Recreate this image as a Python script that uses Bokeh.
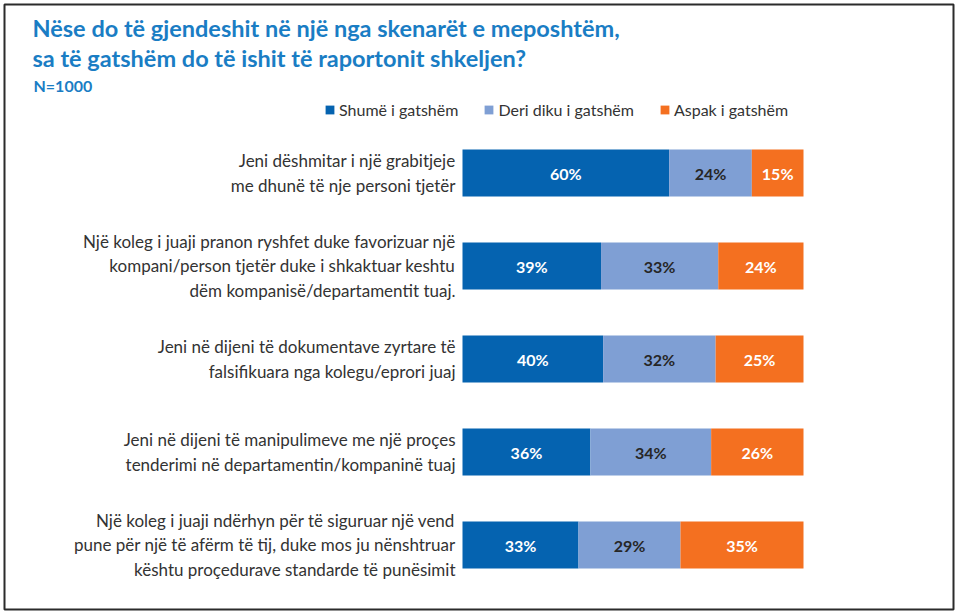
from bokeh.plotting import figure
from bokeh.models import ColumnDataSource, Range1d, Label, Legend, LegendItem
from bokeh.core.properties import value
from bokeh.embed import file_html
from bokeh.resources import INLINE

categories = [
    "Jeni dëshmitar i një grabitjeje\nme dhunë të nje personi tjetër",
    "Një koleg i juaji pranon ryshfet duke favorizuar një\nkompani/person tjetër duke i shkaktuar keshtu\ndëm kompanisë/departamentit tuaj.",
    "Jeni në dijeni të dokumentave zyrtare të\nfalsifikuara nga kolegu/eprori juaj",
    "Jeni në dijeni të manipulimeve me një proçes\ntenderimi në departamentin/kompaninë tuaj",
    "Një koleg i juaji ndërhyn për të siguruar një vend\npune për një të afërm të tij, duke mos ju nënshtruar\nkështu proçedurave standarde të punësimit",
]
series_names = ["Shumë i gatshëm", "Deri diku i gatshëm", "Aspak i gatshëm"]
shume = [60, 39, 40, 36, 33]
deri = [24, 33, 32, 34, 29]
aspak = [15, 24, 25, 26, 35]
colors = ["#0563B0", "#7F9FD4", "#F47020"]
label_colors = ["white", "#262626", "white"]

title_lines = ["Nëse do të gjendeshit në një nga skenarët e meposhtëm,",
               "sa të gatshëm do të ishit të raportonit shkeljen?"]
subtitle = "N=1000"

FONT = "Lato"
W, H = 955, 612
BL, BR, BT, BB = 4, 2, 4, 3
FW, FH = W - BL - BR, H - BT - BB
PX = 341.0   # pixels per unit share
X0 = 462     # page x of 0
YC, YS = 172.5, 93.0  # first bar center, bar spacing (page px)

# normalized shares (bars are 100% stacked)
tot = [a + b + c for a, b, c in zip(shume, deri, aspak)]
f1 = [a / t for a, t in zip(shume, tot)]
f2 = [b / t for b, t in zip(deri, tot)]
f3 = [c / t for c, t in zip(aspak, tot)]
ys = list(range(len(categories)))

src = ColumnDataSource(dict(y=ys, s1=f1, s2=f2, s3=f3))

xmin = -(X0 - BL) / PX
p = figure(width=W, height=H, output_backend="svg", toolbar_location=None,
           x_range=Range1d(xmin, xmin + FW / PX),
           y_range=Range1d((H - BB - YC) / YS, (BT - YC) / YS),
           min_border_left=BL, min_border_right=BR,
           min_border_top=BT, min_border_bottom=BB)
p.axis.visible = False
p.grid.visible = False
p.outline_line_color = "#2b2b2b"
p.outline_line_width = 2
p.background_fill_color = "white"
p.border_fill_color = "white"

rs = p.hbar_stack(["s1", "s2", "s3"], y="y", height=0.505, color=colors,
                  line_color=None, source=src)

# segment labels
fr_all = [f1, f2, f3]
for k, (fr, vals) in enumerate(zip(fr_all, [shume, deri, aspak])):
    left = [sum(x) for x in zip(*fr_all[:k])] if k > 0 else [0] * len(ys)
    cx = [l + f / 2 for l, f in zip(left, fr)]
    p.text(x=cx, y=ys, text=[f"{v}%" for v in vals], text_align="center",
           text_baseline="middle", text_font=value(FONT), text_font_style="bold",
           text_font_size="16px", text_color=label_colors[k])

# category labels
p.text(x=[-7 / PX] * len(ys), y=ys, text=categories, text_align="right",
       text_baseline="middle", text_font=value(FONT), text_font_size="17px",
       text_color="#333333", text_line_height=1.15)

# title
title_y = [30 - 7, 59 - 6]
for t, ty in zip(title_lines, title_y):
    p.add_layout(Label(x=28, y=FH - (ty - BT + 4), x_units="screen", y_units="screen",
                       text=t, text_font=FONT, text_font_style="bold",
                       text_font_size="23.5px", text_color="#1A7DC4",
                       text_baseline="middle"))
p.add_layout(Label(x=29, y=FH - (82 - BT + 3), x_units="screen", y_units="screen",
                   text=subtitle, text_font=FONT, text_font_style="bold",
                   text_font_size="16px", text_color="#1A7DC4",
                   text_baseline="middle"))

legend = Legend(items=[LegendItem(label=n, renderers=[r]) for n, r in zip(series_names, rs)],
                orientation="horizontal", location=(320, FH - 115),
                glyph_width=11, glyph_height=11, label_standoff=4, spacing=25,
                padding=0, margin=0, border_line_color=None,
                background_fill_alpha=0, label_text_font=FONT,
                label_text_font_size="16px", label_text_color="#333333")
p.add_layout(legend)

open("out.html", "w").write(file_html(p, INLINE))
